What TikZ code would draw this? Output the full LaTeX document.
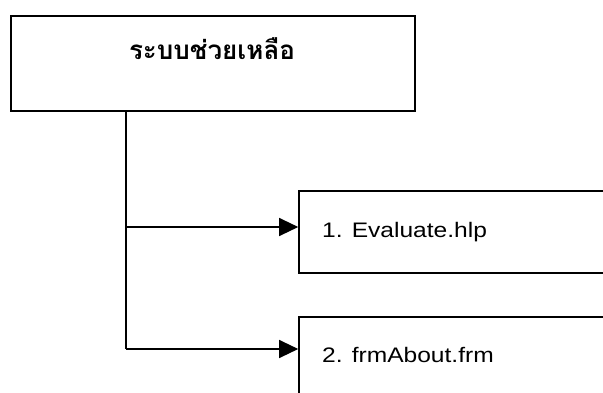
\documentclass[tikz,border=0pt]{standalone}
\usepackage{fontspec}
\setmainfont{Liberation Sans}
\newfontfamily\thaifont[Script=Thai]{Loma}
\newfontfamily\latinfont[FakeStretch=1.17]{Liberation Sans}
\usetikzlibrary{arrows.meta}
\begin{document}
\begin{tikzpicture}[x=1pt,y=-1pt,
  box/.style={draw=black,line width=1.6pt,rectangle,inner sep=0pt},
  conn/.style={draw=black,line width=1.2pt},
  arr/.style={conn,-{Triangle[length=19pt,width=18pt]}},
  lbl/.style={inner sep=0pt,anchor=base west,font=\latinfont\fontsize{21}{24}\selectfont}]
\useasboundingbox (0,0) rectangle (603,392);
\clip (0,0) rectangle (603,392);
\node[box,minimum width=404pt,minimum height=95pt] (top) at (213,63.5) {};
\node[inner sep=0pt,font=\thaifont\bfseries\fontsize{26}{30}\selectfont] (toptext) at (212,49) {ระบบช่วยเหลือ};
\node[box,minimum width=341pt,minimum height=82pt] (c1) at (469.5,232) {};
\node[box,minimum width=341pt,minimum height=82pt] (c2) at (469.5,358) {};
\node[lbl] (t1) at (322,237) {1. Evaluate.hlp};
\node[lbl] (t2) at (322,362) {2. frmAbout.frm};
\coordinate (b1) at (126,227);
\coordinate (b2) at (126,349);
\draw[conn] (top.south -| b1) -- (b2);
\draw[arr] (b1) -- (b1 -| c1.west);
\draw[arr] (b2) -- (b2 -| c2.west);
\end{tikzpicture}
\end{document}
